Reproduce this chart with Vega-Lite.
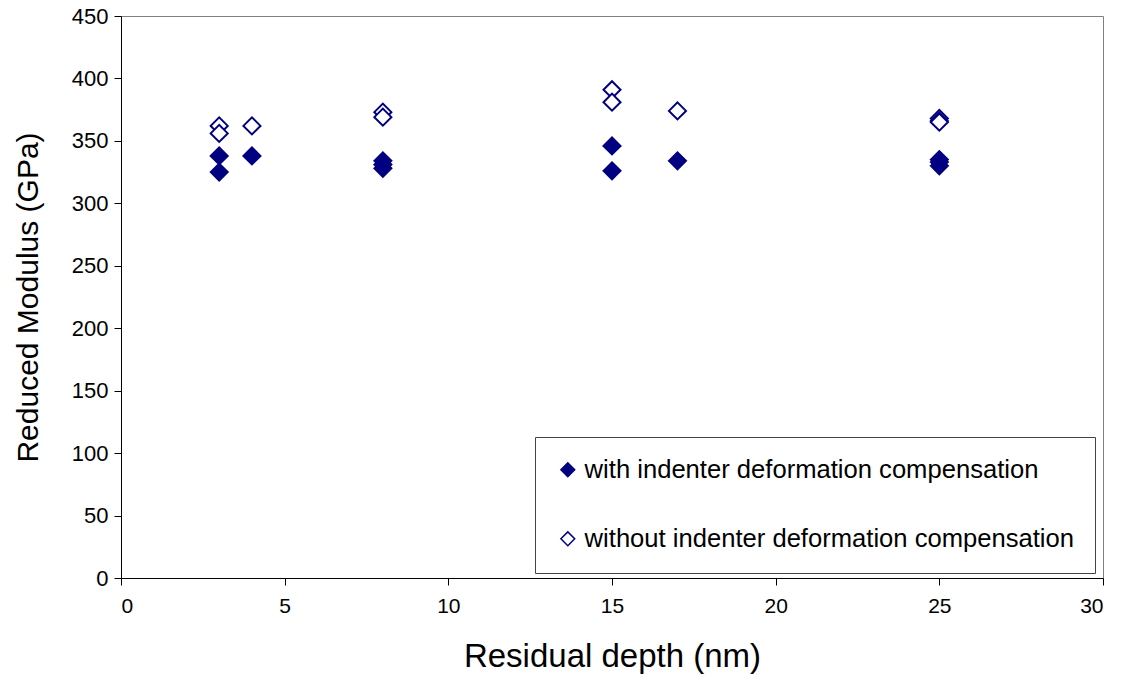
{
  "$schema": "https://vega.github.io/schema/vega-lite/v6.json",
  "width": 982,
  "height": 562,
  "autosize": {"type": "none"},
  "padding": {"left": 121, "top": 16, "right": 21, "bottom": 107},
  "background": "white",
  "config": {
    "font": "Liberation Sans",
    "view": {"stroke": "#808080", "strokeWidth": 1}
  },
  "data": {
    "values": [
      {"depth": 3, "modulus": 338, "series": "with indenter deformation compensation"},
      {"depth": 3, "modulus": 325, "series": "with indenter deformation compensation"},
      {"depth": 4, "modulus": 338, "series": "with indenter deformation compensation"},
      {"depth": 8, "modulus": 334, "series": "with indenter deformation compensation"},
      {"depth": 8, "modulus": 331, "series": "with indenter deformation compensation"},
      {"depth": 8, "modulus": 328, "series": "with indenter deformation compensation"},
      {"depth": 15, "modulus": 346, "series": "with indenter deformation compensation"},
      {"depth": 15, "modulus": 326, "series": "with indenter deformation compensation"},
      {"depth": 17, "modulus": 334, "series": "with indenter deformation compensation"},
      {"depth": 25, "modulus": 335, "series": "with indenter deformation compensation"},
      {"depth": 25, "modulus": 333, "series": "with indenter deformation compensation"},
      {"depth": 25, "modulus": 330, "series": "with indenter deformation compensation"},
      {"depth": 3, "modulus": 362, "series": "without indenter deformation compensation"},
      {"depth": 3, "modulus": 356, "series": "without indenter deformation compensation"},
      {"depth": 4, "modulus": 362, "series": "without indenter deformation compensation"},
      {"depth": 8, "modulus": 373, "series": "without indenter deformation compensation"},
      {"depth": 8, "modulus": 369, "series": "without indenter deformation compensation"},
      {"depth": 15, "modulus": 391, "series": "without indenter deformation compensation"},
      {"depth": 15, "modulus": 381, "series": "without indenter deformation compensation"},
      {"depth": 17, "modulus": 374, "series": "without indenter deformation compensation"},
      {"depth": 25, "modulus": 368, "series": "without indenter deformation compensation"},
      {"depth": 25, "modulus": 366, "series": "without indenter deformation compensation"},
      {"depth": 25, "modulus": 365, "series": "without indenter deformation compensation"}
    ]
  },
  "mark": {"type": "point", "shape": "diamond", "filled": true, "stroke": "#000080", "strokeWidth": 2, "size": 290, "opacity": 1},
  "encoding": {
    "x": {
      "field": "depth", "type": "quantitative",
      "scale": {"domain": [0, 30], "nice": false, "zero": true},
      "axis": {
        "values": [0, 5, 10, 15, 20, 25, 30],
        "grid": false, "domainColor": "black", "tickColor": "black", "tickSize": 7,
        "labelFontSize": 21, "labelColor": "black", "labelPadding": 10,
        "title": "Residual depth (nm)", "titleFontSize": 33, "titleFontWeight": "normal",
        "titleColor": "black", "titlePadding": 24
      }
    },
    "y": {
      "field": "modulus", "type": "quantitative",
      "scale": {"domain": [0, 450], "nice": false},
      "axis": {
        "values": [0, 50, 100, 150, 200, 250, 300, 350, 400, 450],
        "grid": false, "domainColor": "black", "tickColor": "black", "tickSize": 7,
        "labelFontSize": 22, "labelColor": "black", "labelPadding": 6,
        "title": "Reduced Modulus (GPa)", "titleFontSize": 30, "titleFontWeight": "normal",
        "titleColor": "black", "titlePadding": 28
      }
    },
    "fill": {
      "field": "series", "type": "nominal",
      "scale": {"domain": ["with indenter deformation compensation", "without indenter deformation compensation"], "range": ["#000080", "white"]},
      "legend": {
        "title": null, "orient": "none", "legendX": 414, "legendY": 421,
        "strokeColor": "#444444", "fillColor": "white", "padding": 20,
        "labelFontSize": 25.6, "labelColor": "black", "labelLimit": 700,
        "symbolType": "diamond", "symbolSize": 190, "symbolStrokeColor": "#000080",
        "symbolStrokeWidth": 1.5, "symbolOpacity": 1, "rowPadding": 42, "labelOffset": 4
      }
    }
  }
}
